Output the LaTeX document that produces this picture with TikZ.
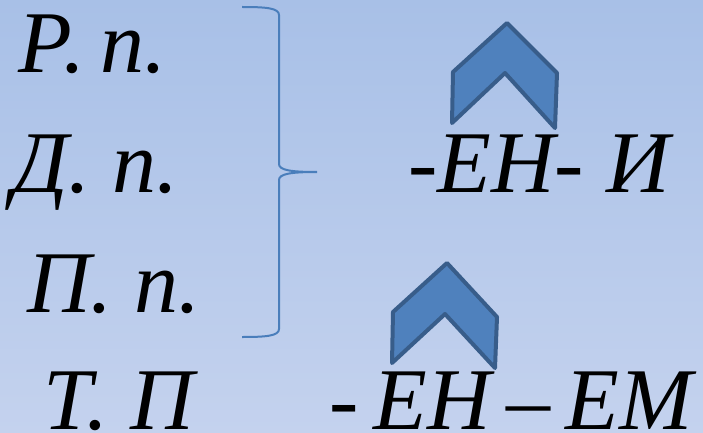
\documentclass[tikz,border=0pt]{standalone}
\usepackage{fontspec}
\setmainfont{Liberation Serif}
\newfontfamily\tightfont[WordSpace=0.7]{Liberation Serif}
\definecolor{bgtop}{RGB}{168,192,231}
\definecolor{bgbot}{RGB}{196,210,238}
\definecolor{chevfill}{RGB}{79,129,189}
\definecolor{chevline}{RGB}{56,93,138}
\definecolor{bracecol}{RGB}{74,126,187}
\tikzset{
  casetext/.style={anchor=base west, inner sep=0pt, font=\fontsize{88}{88}\selectfont\itshape},
  tight/.style={font=\fontsize{88}{88}\tightfont\itshape},
  chevron/.style={fill=chevfill, draw=chevline, line width=4pt, line join=round},
  bracket/.style={draw=bracecol, line width=2pt}
}
\begin{document}
\begin{tikzpicture}[x=1pt,y=-1pt]
\useasboundingbox (0,0) rectangle (703,433);
\clip (0,0) rectangle (703,433);
\shade [top color=bgtop, bottom color=bgbot] (0,0) rectangle (703,433);

\node (rp) [casetext, tight] at (18,73) {Р. п.};
\node (dp) [casetext] at (12,192) {Д. п.};
\node (pp) [casetext] at (27,312) {П. п.};
\node (tp) [casetext] at (43,429) {Т. П};

\node (eni) [casetext] at (408,192) {-ЕН- И};
\node (enem) [casetext, tight] at (329,429) {- ЕН – ЕМ};

\draw [bracket] (242,7) .. controls (266,7) and (279,8) .. (279,15) -- (279,164)
  .. controls (279,170) and (290,172) .. (317,172)
  .. controls (290,172) and (279,174) .. (279,180) -- (279,329)
  .. controls (279,336) and (266,337) .. (242,337);

\draw [chevron] (507,23) -- (557,73) -- (555,128) -- (505,73) -- (452,123) -- (453,72) -- cycle;
\draw [chevron] (447,263) -- (497,317) -- (495,368) -- (445,314) -- (392,363) -- (393,312) -- cycle;

\end{tikzpicture}
\end{document}
